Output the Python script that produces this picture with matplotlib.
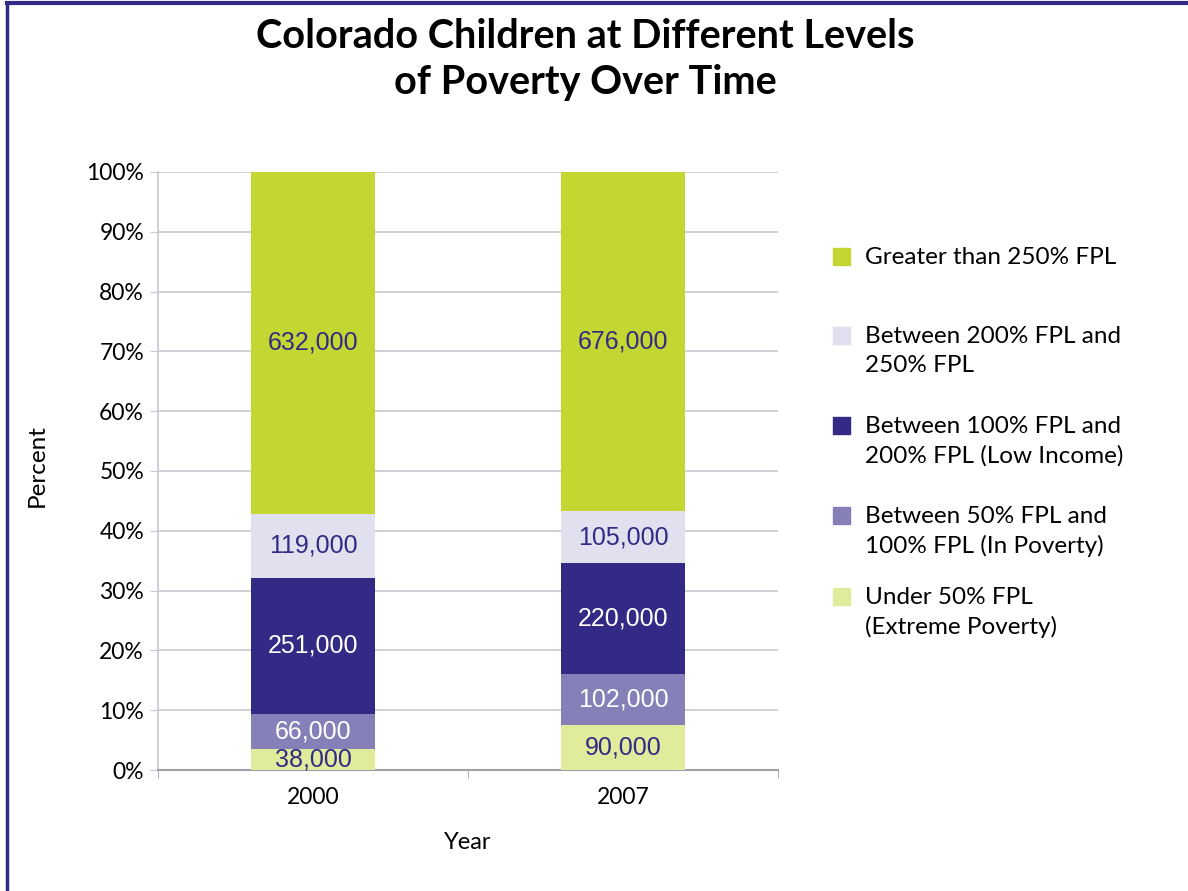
import matplotlib
matplotlib.use("Agg")
import matplotlib.pyplot as plt
from matplotlib.patches import Rectangle
import numpy as np

# data (counts of children)
years = ["2000", "2007"]
categories = [
    "Under 50% FPL\n(Extreme Poverty)",
    "Between 50% FPL and\n100% FPL (In Poverty)",
    "Between 100% FPL and\n200% FPL (Low Income)",
    "Between 200% FPL and\n250% FPL",
    "Greater than 250% FPL",
]
under_50 = [38000, 90000]
between_50_100 = [66000, 102000]
between_100_200 = [251000, 220000]
between_200_250 = [119000, 105000]
over_250 = [632000, 676000]

colors = ["#e0eb9c", "#8680b8", "#332a85", "#e0e0ee", "#c3d631"]
label_colors = ["#332a85", "white", "white", "#332a85", "#332a85"]

series = np.array([under_50, between_50_100, between_100_200,
                   between_200_250, over_250], dtype=float)
pct = series / series.sum(axis=0) * 100

plt.rcParams['font.family'] = ['Lato', 'DejaVu Sans']

fig = plt.figure(figsize=(11.88, 8.91), dpi=100)
ax = fig.add_axes([0.133, 0.1358, 0.522, 0.6712])

x = np.arange(len(years))
bottom = np.zeros(len(years))
for i in range(len(categories)):
    ax.bar(x, pct[i], 0.4, bottom=bottom, color=colors[i], zorder=3)
    for j in range(len(years)):
        ax.text(x[j], bottom[j] + pct[i][j] / 2, f"{int(series[i][j]):,}",
                ha='center', va='center', fontsize=18,
                family='Liberation Sans', color=label_colors[i], zorder=4)
    bottom += pct[i]

ax.set_xlim(-0.5, 1.5)
ax.set_ylim(0, 100)
ax.set_yticks(np.arange(0, 101, 10))
ax.set_yticklabels([f"{v}%" for v in range(0, 101, 10)], fontsize=16.5)
ax.set_xticks(x)
ax.set_xticklabels(years, fontsize=16.5)
ax.set_xticks([-0.5, 0.5, 1.5], minor=True)
ax.tick_params(axis='x', which='major', length=0, pad=12)
ax.tick_params(axis='x', which='minor', length=6, color='#a0a0a8', direction='out')
ax.tick_params(axis='y', length=6, color='#c8c8d0', pad=4)
ax.grid(axis='y', color='#c8c8d0', linewidth=1.2, zorder=0)
ax.set_axisbelow(True)
for s in ['top', 'right']:
    ax.spines[s].set_visible(False)
ax.spines['left'].set_color('#c8c8d0')
ax.spines['bottom'].set_color('#a0a0a8')
ax.spines['left'].set_linewidth(1.2)
ax.spines['bottom'].set_linewidth(1.5)

fig.text(0.4924, 0.933, "Colorado Children at Different Levels\nof Poverty Over Time",
         ha='center', va='center', fontsize=28.5, fontweight='bold', linespacing=1.3)
fig.text(0.031, 0.478, "Percent", rotation=90, ha='center', va='center', fontsize=17.5)
fig.text(0.394, 0.054, "Year", ha='center', va='center', fontsize=17)

# legend, top segment first
legend_y = [257, 336, 426, 516, 597]
for k, y in enumerate(legend_y):
    i = len(categories) - 1 - k
    fig.patches.append(Rectangle((833 / 1188, 1 - (y + 8) / 891), 17 / 1188, 17 / 891,
                                 transform=fig.transFigure, color=colors[i]))
    fig.text(865 / 1188, 1 - (y - 10) / 891, categories[i], ha='left', va='top',
             fontsize=17.5, linespacing=1.45)

# frame lines on the left and top
fig.add_artist(plt.Line2D([7 / 1188, 7 / 1188], [0, 1 - 3 / 891], color='#332a85',
                          linewidth=2.5, transform=fig.transFigure))
fig.add_artist(plt.Line2D([7 / 1188, 1], [1 - 3 / 891, 1 - 3 / 891], color='#332a85',
                          linewidth=3, transform=fig.transFigure))

fig.savefig("out.png", dpi=100)
